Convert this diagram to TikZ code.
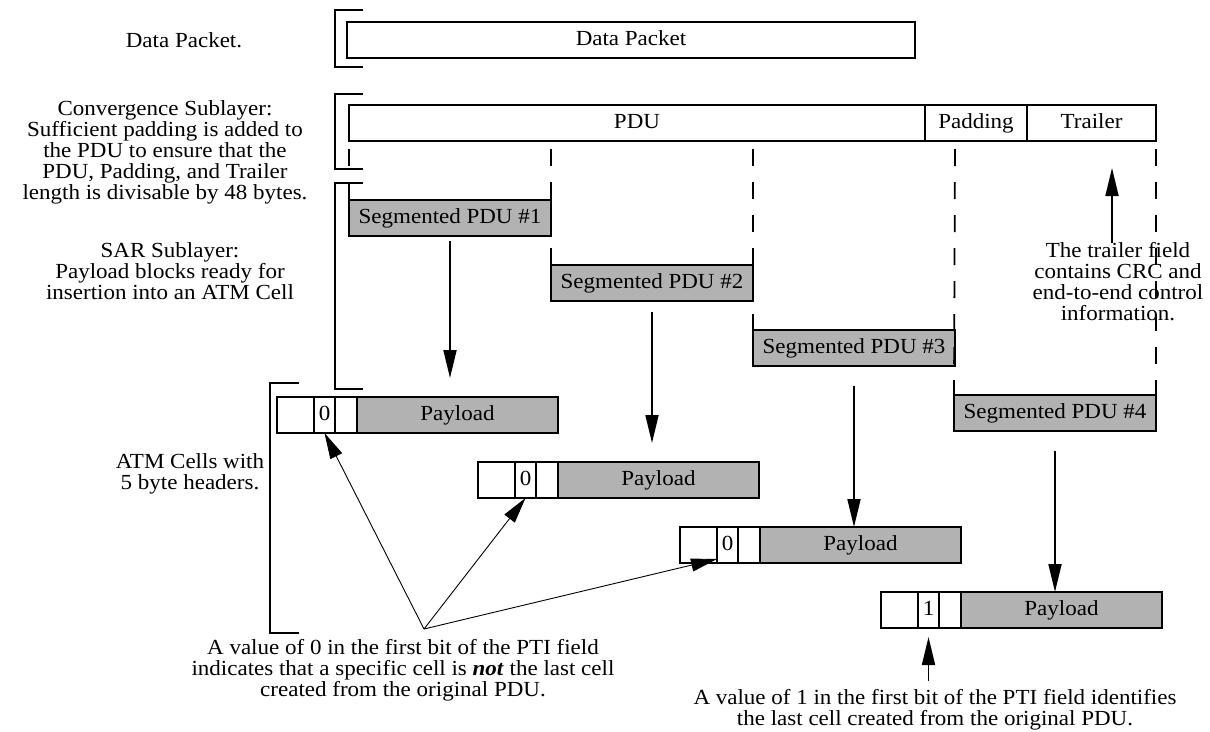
\documentclass[tikz,border=0pt]{standalone}
\usepackage{fontspec}
\setmainfont[FakeStretch=1.07]{Liberation Serif}
\usepackage{xcolor}
\usetikzlibrary{positioning,arrows.meta}
\definecolor{segfill}{gray}{0.70}

\begin{document}
\begin{tikzpicture}[x=1pt, y=-1pt, font=\fontsize{21.5}{21}\selectfont,
  field/.style={draw, line width=1.8pt, minimum height=36pt, inner sep=0pt, outer sep=0pt,
    text height=15pt, text depth=5pt, anchor=north west},
  part/.style={field, anchor=west, right=0pt of #1},
  segbox/.style={field, fill=segfill, minimum width=202pt},
  cutline/.style={line width=1.8pt, dash pattern=on 17pt off 16pt, dash phase=25pt},
  flow/.style={line width=1.8pt, -{Triangle[length=28pt, width=13pt]}},
  hint/.style={line width=0.9pt, -{Triangle[length=26pt, width=13pt]}},
  label/.style={align=center, inner sep=0pt}]
\useasboundingbox (0,0) rectangle (1210,731);

% left-hand descriptions
\node[label] (lbldata) at (184,40) {Data Packet.};
\node[label] (lblcs) at (165,152) {Convergence Sublayer:\\Sufficient padding is added to\\the PDU to ensure that the\\PDU, Padding, and Trailer\\length is divisable by 48 bytes.};
\node[label] (lblsar) at (170,271) {SAR Sublayer:\\Payload blocks ready for\\insertion into an ATM Cell};
\node[label] (lblatm) at (190,474) {ATM Cells with\\5 byte headers.};

% brackets
\draw[line width=1.8pt] (363,10) -| (335,67) -- (363,67);
\draw[line width=1.8pt] (363,94) -| (335,169) -- (363,169);
\draw[line width=1.8pt] (363,183) -| (335,389) -- (363,389);
\draw[line width=1.8pt] (299,383) -| (270,633) -- (299,633);

% data packet and PDU
\node[field, minimum width=568pt] (data) at (347,22) {Data Packet};
\node[field, minimum width=576pt] (pdu) at (349,105) {PDU};
\node[part=pdu.east, minimum width=102pt] (padding) {Padding};
\node[part=padding.east, minimum width=129pt] (trailer) {Trailer};

% segmented PDUs
\node[segbox] (seg1) at (349,200) {Segmented PDU \#1};
\node[segbox] (seg2) at (551,265) {Segmented PDU \#2};
\node[segbox] (seg3) at (753,330) {Segmented PDU \#3};
\node[segbox] (seg4) at (954,395) {Segmented PDU \#4};

\draw[cutline] (pdu.south west) -- (seg1.north west);
\draw[cutline] (seg1.north east |- pdu.south) -- (seg2.north west);
\draw[cutline] (seg2.north east |- pdu.south) -- (seg3.north west);
\draw[cutline] (seg3.north east |- pdu.south) -- (seg4.north west);
\draw[cutline] (trailer.south east) -- (seg4.north east);

% ATM cells
\node[field, minimum width=37pt] (c1h) at (277,397) {};
\node[part=c1h.east, minimum width=21pt] (c1b) {0};
\node[part=c1b.east, minimum width=22pt] (c1r) {};
\node[part=c1r.east, minimum width=201pt, fill=segfill] (c1p) {Payload};

\node[field, minimum width=37pt] (c2h) at (478,462) {};
\node[part=c2h.east, minimum width=21pt] (c2b) {0};
\node[part=c2b.east, minimum width=22pt] (c2r) {};
\node[part=c2r.east, minimum width=201pt, fill=segfill] (c2p) {Payload};

\node[field, minimum width=37pt] (c3h) at (680,527) {};
\node[part=c3h.east, minimum width=21pt] (c3b) {0};
\node[part=c3b.east, minimum width=22pt] (c3r) {};
\node[part=c3r.east, minimum width=201pt, fill=segfill] (c3p) {Payload};

\node[field, minimum width=37pt] (c4h) at (881,592) {};
\node[part=c4h.east, minimum width=21pt] (c4b) {1};
\node[part=c4b.east, minimum width=22pt] (c4r) {};
\node[part=c4r.east, minimum width=201pt, fill=segfill] (c4p) {Payload};

\draw[flow, shorten <=5pt, shorten >=19pt] (seg1.south) -- (seg1.south |- c1p.north);
\draw[flow, shorten <=11pt, shorten >=19pt] (seg2.south) -- (seg2.south |- c2p.north);
\draw[flow, shorten <=20pt] (seg3.south) -- (seg3.south |- c3p.north);
\draw[flow, shorten <=20pt] (seg4.south) -- (seg4.south |- c4p.north);

% notes
\node[label] (trailnote) at (1118,282) {The trailer field\\contains CRC and\\end-to-end control\\information.};
\draw[flow, shorten >=27pt] ([xshift=-6pt]trailnote.north) -- ([xshift=-6pt]trailnote.north |- trailer.south);

\coordinate (fan) at (424,629);
\node[label, anchor=north] (zeronote) at (403,639) {A value of 0 in the first bit of the PTI field\\indicates that a specific cell is \textbf{\textit{not}} the last cell\\created from the original PDU.};
\draw[hint] (fan) -- (c1b.south);
\draw[hint] (fan) -- (c2b.south);
\draw[hint] (fan) -- ([yshift=4pt]c3b.south west);

\node[label, anchor=north] (onenote) at (935,689) {A value of 1 in the first bit of the PTI field identifies\\the last cell created from the original PDU.};
\draw[flow, shorten <=8pt, shorten >=9pt] (onenote.north -| c4b.south) -- (c4b.south);
\end{tikzpicture}
\end{document}
